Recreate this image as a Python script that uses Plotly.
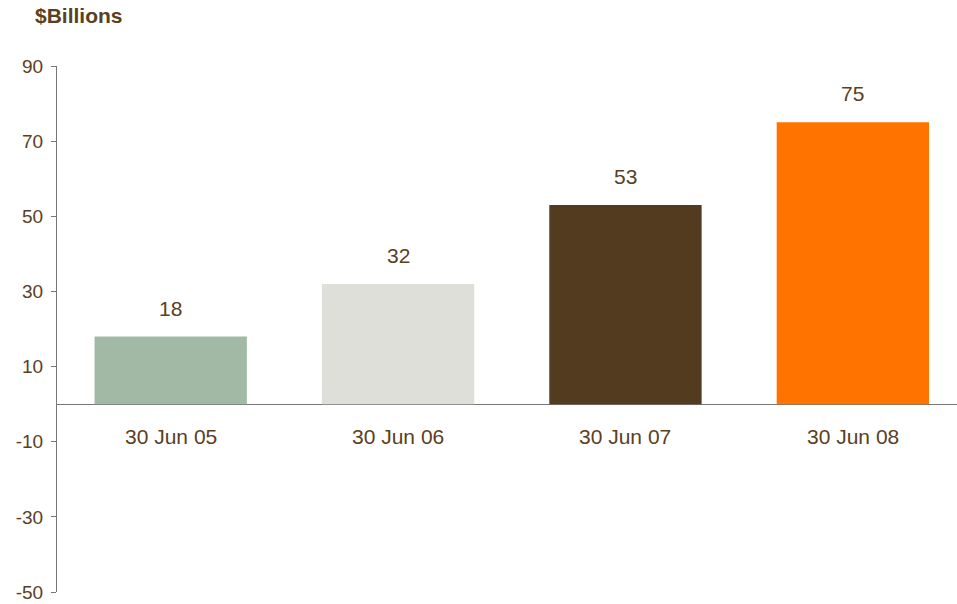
import plotly.graph_objects as go

categories = ["30 Jun 05", "30 Jun 06", "30 Jun 07", "30 Jun 08"]
values = [18, 32, 53, 75]
colors = ["#a2b9a6", "#dfdfda", "#523b1e", "#ff7300"]
y_ticks = [90, 70, 50, 30, 10, -10, -30, -50]

text_color = "#5a4022"
font_family = "Liberation Sans, Arial, sans-serif"

# plot area in pixels
W, H = 957, 604
L, R, T, B = 57, 0, 66, 12
PW, PH = W - L - R, H - T - B

fig = go.Figure(
    go.Bar(
        x=list(range(len(categories))),
        y=values,
        marker=dict(color=colors, line=dict(width=0)),
        width=0.67,
        hoverinfo="skip",
    )
)

annotations = []
for i, (cat, v) in enumerate(zip(categories, values)):
    # value label above each bar
    annotations.append(dict(
        x=i, y=v, xref="x", yref="y", text=str(v), showarrow=False,
        yanchor="bottom", yshift=15,
        font=dict(family=font_family, size=21, color=text_color),
    ))
    # category label just below the zero line
    annotations.append(dict(
        x=i, y=0, xref="x", yref="y", text=cat, showarrow=False,
        yanchor="top", yshift=-19,
        font=dict(family=font_family, size=21, color=text_color),
    ))
# unit title in the top-left corner
annotations.append(dict(
    x=(33 - L) / PW, y=1 + (T - 16) / PH, xref="paper", yref="paper",
    text="<b>$Billions</b>", showarrow=False, xanchor="left", yanchor="middle",
    font=dict(family=font_family, size=21, color=text_color),
))

fig.update_layout(
    width=W,
    height=H,
    margin=dict(l=L, r=R, t=T, b=B),
    paper_bgcolor="white",
    plot_bgcolor="white",
    showlegend=False,
    annotations=annotations,
    xaxis=dict(
        range=[-0.5, 3.458],
        showticklabels=False,
        showgrid=False,
        zeroline=False,
        showline=False,
        ticks="",
        fixedrange=True,
    ),
    yaxis=dict(
        range=[-50, 90],
        tickvals=y_ticks,
        ticktext=[str(t) for t in y_ticks],
        ticks="outside",
        ticklen=5,
        tickcolor="#777777",
        tickwidth=1,
        showline=True,
        linecolor="#777777",
        linewidth=1,
        showgrid=False,
        zeroline=True,
        zerolinecolor="#777777",
        zerolinewidth=1.3,
        tickfont=dict(family=font_family, size=19, color=text_color),
        ticklabelstandoff=4,
        fixedrange=True,
    ),
)

fig.write_html("out.html")
